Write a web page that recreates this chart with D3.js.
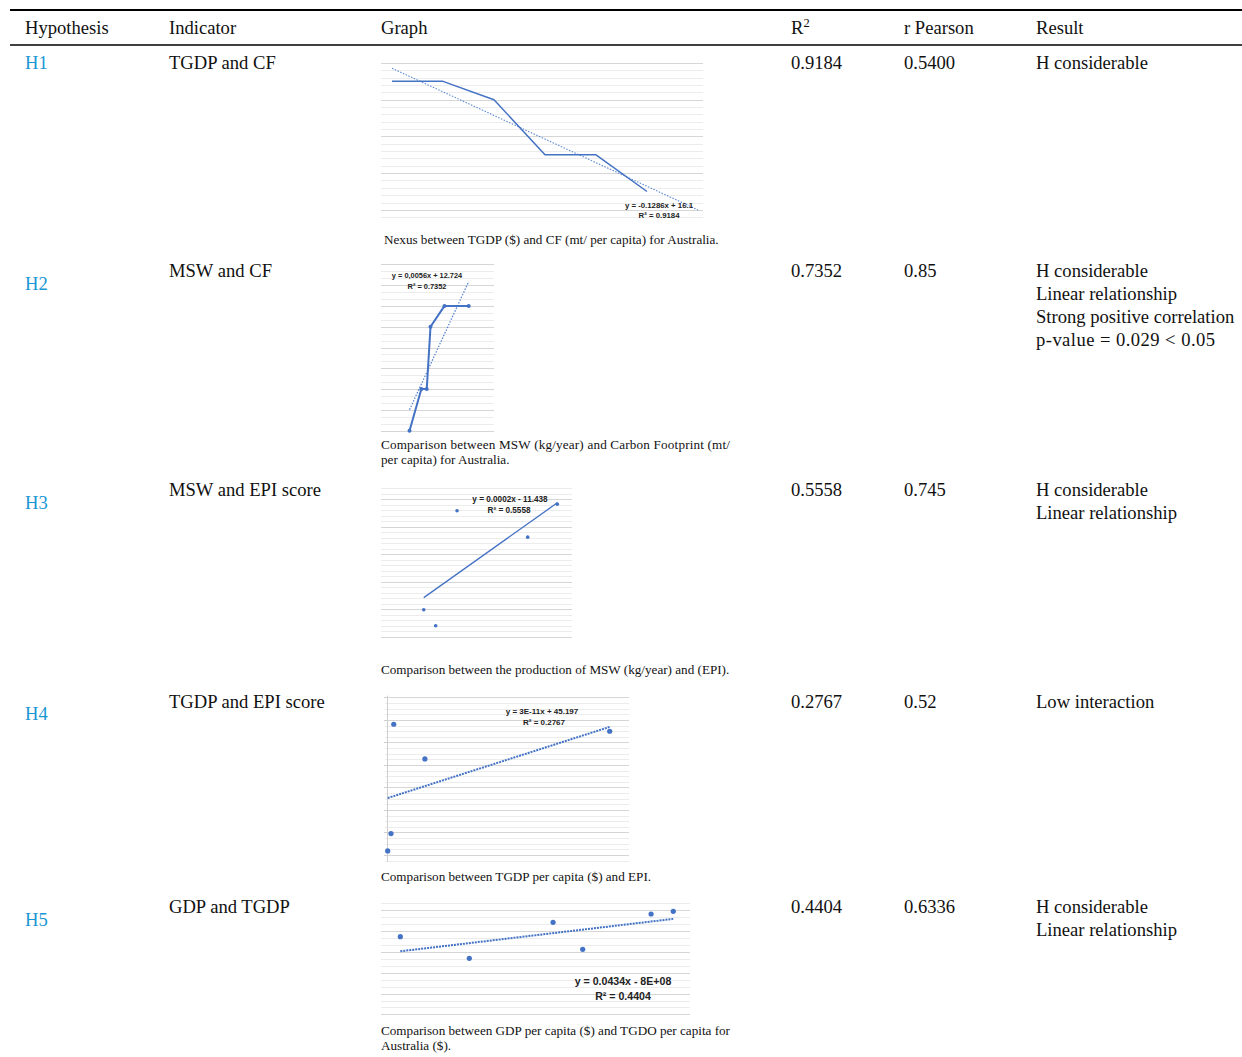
<!DOCTYPE html>
<html><head><meta charset="utf-8">
<script src="https://cdn.jsdelivr.net/npm/d3@7"></script>
<style>
body{margin:0;background:#fff}
svg{display:block}
text{font-family:"Liberation Serif","Times New Roman",serif;fill:#111}
</style>
</head><body>
<svg id="c" width="1242" height="1057"></svg>
<script>
// ---------------- DATA ----------------
const headers = ["Hypothesis","Indicator","Graph","R","r Pearson","Result"];
const hypotheses = ["H1","H2","H3","H4","H5"];
const indicators = ["TGDP and CF","MSW and CF","MSW and EPI score","TGDP and EPI score","GDP and TGDP"];
const r2Values = ["0.9184","0.7352","0.5558","0.2767","0.4404"];
const pearsonValues = ["0.5400","0.85","0.745","0.52","0.6336"];
const results = [
  ["H considerable"],
  ["H considerable","Linear relationship","Strong positive correlation","p-value = 0.029 < 0.05"],
  ["H considerable","Linear relationship"],
  ["Low interaction"],
  ["H considerable","Linear relationship"]
];
const captions = [
  ["Nexus between TGDP ($) and CF (mt/ per capita) for Australia."],
  ["Comparison between MSW (kg/year) and Carbon Footprint (mt/","per capita) for Australia."],
  ["Comparison between the production of MSW (kg/year) and (EPI)."],
  ["Comparison between TGDP per capita ($) and EPI."],
  ["Comparison between GDP per capita ($) and TGDO per capita for","Australia ($)."]
];
// H1: CF (mt per capita) over successive TGDP observations
const h1Period = [1,2,3,4,5,6];
const h1CF = [15.9,15.9,15.8,15.5,15.5,15.3];
// H2: MSW (kg/year) vs CF
const h2MSW = [478,500,510,517,543,588];
const h2CF = [15.3,15.5,15.5,15.8,15.9,15.9];
// H3: MSW vs EPI
const h3MSW = [367700,375400,389200,434800,453900];
const h3EPI = [59.9,57.0,77.9,73.1,79.1];
// H4: TGDP vs EPI
const h4TGDP = [3.3e9,1.9e10,3.2e10,1.8e11,1.058e12];
const h4EPI = [21.8,29.5,78.1,62.7,75.0];
// H5: GDP vs TGDP
const h5GDP = [1.1744e12,1.2198e12,1.2749e12,1.2944e12,1.3394e12,1.3540e12];
const h5TGDP = [5.368e10,4.849e10,5.714e10,5.065e10,5.913e10,5.978e10];
// trend lines
const trendSlopes = [-0.1286,0.0056,0.0002,3e-11,0.0434];
const trendIntercepts = [16.1,12.724,-11.438,45.197,-8e8];
const trendEquations = ["y = -0.1286x + 16.1","y = 0,0056x + 12.724","y = 0.0002x - 11.438","y = 3E-11x + 45.197","y = 0.0434x - 8E+08"];
const trendR2Labels = ["R\u00B2 = 0.9184","R\u00B2 = 0.7352","R\u00B2 = 0.5558","R\u00B2 = 0.2767","R\u00B2 = 0.4404"];

// ---------------- LAYOUT ----------------
const W = 1242, H = 1057;
const svg = d3.select("#c");
svg.append("rect").attr("width",W).attr("height",H).attr("fill","#fff");

const colX = [25,169,381,791,904,1036];
const FS = 18.6;
const BLUE = "#4472C4";
const LINK = "#1a96d4";

svg.append("line").attr("x1",10).attr("x2",W).attr("y1",10).attr("y2",10).attr("stroke","#000").attr("stroke-width",2);
svg.append("line").attr("x1",10).attr("x2",W).attr("y1",45).attr("y2",45).attr("stroke","#000").attr("stroke-width",1.5);

headers.forEach((h,i)=>{
  const t = svg.append("text").attr("x",colX[i]).attr("y",34).attr("font-size",FS).text(h);
  if(h==="R") t.append("tspan").attr("dy",-7).attr("font-size",12.5).text("2");
});

const indBase = [69,277,496,708,913];
const hypBase = [69,290,509,720,926];
const lineH = 23;

hypotheses.forEach((h,i)=>{
  svg.append("text").attr("x",colX[0]).attr("y",hypBase[i]).attr("font-size",FS).style("fill",LINK).text(h);
  svg.append("text").attr("x",colX[1]).attr("y",indBase[i]).attr("font-size",FS).text(indicators[i]);
  svg.append("text").attr("x",colX[3]).attr("y",indBase[i]).attr("font-size",FS).text(r2Values[i]);
  svg.append("text").attr("x",colX[4]).attr("y",indBase[i]).attr("font-size",FS).text(pearsonValues[i]);
  results[i].forEach((r,j)=>{
    const t = svg.append("text").attr("x",colX[5]).attr("y",indBase[i]+j*lineH).attr("font-size",FS).text(r);
    if(r.startsWith("p-value")) t.attr("textLength",179).attr("lengthAdjust","spacing");
  });
});

// captions
const capLayout = [
  {x:384,y:[244],w:[null]},
  {x:381,y:[449,464],w:[349,null]},
  {x:381,y:[674],w:[null]},
  {x:381,y:[881],w:[null]},
  {x:381,y:[1035,1050],w:[349,null]}
];
captions.forEach((c,i)=>{
  c.forEach((line,j)=>{
    const t = svg.append("text").attr("x",capLayout[i].x).attr("y",capLayout[i].y[j]).attr("font-size",13.15).text(line);
    if(capLayout[i].w[j]) t.attr("textLength",capLayout[i].w[j]).attr("lengthAdjust","spacing");
  });
});

// ---------------- CHARTS ----------------
const charts = [
  {xs:h1Period, ys:h1CF, xDom:[1,7], xRng:[392,698], yDom:[15.16,16.0], yRng:[217.2,63],
   gx:[381,703], grid:d3.range(22).map(i=>15.16+i*0.04), major:v=>Math.abs(v*5-Math.round(v*5))<1e-6,
   line:true, lineW:1.5, markers:false, trendX:[1,7], trendDash:"1.5,1.5", trendW:1.1, trendColor:"#5a8ad6",
   eq:{x:693,y:208,anchor:"end",fs:7.8}, r2:{x:659,y:218,fs:7.8}},
  {xs:h2MSW, ys:h2CF, xDom:[425,635], xRng:[381,494], yDom:[15.3,16.1], yRng:[430.7,264.3],
   gx:[381,494], grid:d3.range(25).map(i=>15.3+i/30), major:v=>Math.abs(v*10-Math.round(v*10))<1e-6,
   line:true, lineW:2, markers:true, mr:2, trendX:null, trendDash:"1.5,1.5", trendW:1.2, trendColor:"#4f7fd0",
   eq:{x:427,y:278,anchor:"middle",fs:7.4}, r2:{x:427,y:289,fs:7.4}},
  {xs:h3MSW, ys:h3EPI, xDom:[340100,463400], xRng:[381,572], yDom:[54.58,82.4], yRng:[639,486],
   gx:[381,572], grid:d3.range(55,83), major:v=>v%5===0,
   line:false, markers:true, mr:1.8, trendX:null, trendDash:null, trendW:1.3, trendColor:BLUE,
   eq:{x:510,y:502,anchor:"middle",fs:8.2}, r2:{x:509,y:513,fs:8.2}},
  {xs:h4TGDP, ys:h4EPI, xDom:[0,1.145e12], xRng:[387,628], yDom:[17,90.8], yRng:[861.7,695.7],
   gx:[385,629], grid:d3.range(30).map(i=>17.5+i*2.5), major:v=>v%10===0,
   axis:true, line:false, markers:true, mr:2.6, trendX:null, trendDash:"2,1", trendW:2, trendColor:BLUE,
   eq:{x:542,y:714,anchor:"middle",fs:8}, r2:{x:544,y:725,fs:8}},
  {xs:h5GDP, ys:h5TGDP, xDom:[1.1617e12,1.3648e12], xRng:[381,689.7], yDom:[3.493e10,6.202e10], yRng:[1014.7,902],
   gx:[381,690], grid:d3.range(17).map(i=>3.5e10+i*5e9/3), major:v=>Math.abs(v/5e9-Math.round(v/5e9))<1e-6,
   line:false, markers:true, mr:2.6, trendX:null, trendDash:"2,1", trendW:2, trendColor:BLUE,
   eq:{x:623,y:985,anchor:"middle",fs:10.6}, r2:{x:623,y:999.5,fs:10.6}}
];

charts.forEach((c,k)=>{
  const g = svg.append("g");
  const x = d3.scaleLinear().domain(c.xDom).range(c.xRng);
  const y = d3.scaleLinear().domain(c.yDom).range(c.yRng);
  g.selectAll("line.grid").data(c.grid).join("line")
    .attr("x1",c.gx[0]).attr("x2",c.gx[1])
    .attr("y1",d=>Math.round(y(d))+0.5).attr("y2",d=>Math.round(y(d))+0.5)
    .attr("stroke",d=>c.major(d)?"#d6d6d6":"#ececec").attr("stroke-width",1);
  if(c.axis){
    const y0 = c.yRng[0], y1 = c.yRng[1];
    g.append("line").attr("x1",387.5).attr("x2",387.5).attr("y1",y1).attr("y2",y0).attr("stroke","#cfcfcf");
    const ticks = c.grid.filter(c.major);
    g.selectAll("line.tk").data(ticks).join("line")
      .attr("x1",384).attr("x2",387.5)
      .attr("y1",d=>Math.round(y(d))+0.5).attr("y2",d=>Math.round(y(d))+0.5)
      .attr("stroke","#cfcfcf");
  }
  const pts = c.xs.map((v,i)=>[v,c.ys[i]]);
  const tx = c.trendX || d3.extent(c.xs);
  const tline = g.append("line")
    .attr("x1",x(tx[0])).attr("y1",y(trendSlopes[k]*tx[0]+trendIntercepts[k]))
    .attr("x2",x(tx[1])).attr("y2",y(trendSlopes[k]*tx[1]+trendIntercepts[k]))
    .attr("stroke",c.trendColor).attr("stroke-width",c.trendW);
  if(c.trendDash) tline.attr("stroke-dasharray",c.trendDash);
  if(c.line){
    g.append("path").datum(pts)
      .attr("d",d3.line().x(d=>x(d[0])).y(d=>y(d[1])))
      .attr("fill","none").attr("stroke",BLUE).attr("stroke-width",c.lineW).attr("stroke-linejoin","round");
  }
  if(c.markers){
    g.selectAll("circle").data(pts).join("circle")
      .attr("cx",d=>x(d[0])).attr("cy",d=>y(d[1])).attr("r",c.mr).attr("fill",BLUE);
  }
  g.append("text").attr("x",c.eq.x).attr("y",c.eq.y).attr("text-anchor",c.eq.anchor)
    .style("font-family","'Liberation Sans',Arial,sans-serif").style("font-weight","bold").style("fill","#222")
    .attr("font-size",c.eq.fs).text(trendEquations[k]);
  g.append("text").attr("x",c.r2.x).attr("y",c.r2.y).attr("text-anchor","middle")
    .style("font-family","'Liberation Sans',Arial,sans-serif").style("font-weight","bold").style("fill","#222")
    .attr("font-size",c.r2.fs).text(trendR2Labels[k]);
});
</script>
</body></html>
